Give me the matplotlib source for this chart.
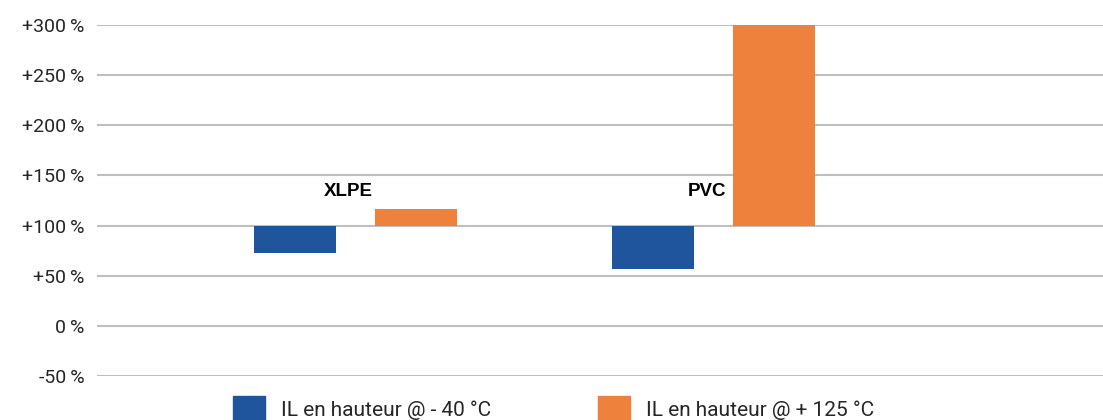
import matplotlib
matplotlib.use("Agg")
import matplotlib.pyplot as plt
from matplotlib.patches import Patch
import numpy as np

# data (% of reference, bars drawn from the 100 % baseline)
categories = ["XLPE", "PVC"]
il_minus40 = [73, 57]
il_plus125 = [117, 300]
baseline = 100
series_names = ["IL en hauteur @ - 40 °C", "IL en hauteur @ + 125 °C"]
yticks = [-50, 0, 50, 100, 150, 200, 250, 300]

blue = "#1f559c"
orange = "#ee823c"

plt.rcParams['font.family'] = ['Roboto', 'DejaVu Sans']

fig = plt.figure(figsize=(11.03, 4.2), dpi=100)
ax = fig.add_axes([97/1103, 1 - 376/420, 1 - 97/1103, (376 - 25)/420])

x = np.arange(len(categories))
w = 0.229
off = 0.169
ax.bar(x - off, np.array(il_minus40) - baseline, w, bottom=baseline, color=blue, zorder=3)
ax.bar(x + off, np.array(il_plus125) - baseline, w, bottom=baseline, color=orange, zorder=3)

for xi, name in zip(x, categories):
    ax.text(xi - 0.02, 134, name, ha="center", va="center", fontsize=13.5,
            fontweight="bold", family=["Liberation Sans", "DejaVu Sans"], color="#000000", zorder=4)

ax.set_xlim(-0.723, 2.087)
ax.set_ylim(-50, 300)
ax.set_yticks(yticks)

def fmt(v):
    if v > 0:
        return "+%d\u2009%%" % v
    return "%d\u2009%%" % v

ax.set_yticklabels([fmt(v) for v in yticks], fontsize=14, color="#262626")
ax.tick_params(axis="y", length=0, pad=9)
ax.set_xticks([])
ax.grid(axis="y", color="#bfbfbf", linewidth=1.5, zorder=0)
for s in ax.spines.values():
    s.set_visible(False)

handles = [Patch(color=blue), Patch(color=orange)]
fig.legend(handles, series_names, loc="upper left", bbox_to_anchor=(233/1103, 1 - 396/420),
           ncol=2, frameon=False, fontsize=15, handlelength=1.54, handleheight=1.54,
           handletextpad=0.77, columnspacing=5.1, borderpad=0, borderaxespad=0,
           labelcolor="#262626")

fig.savefig("out.png", dpi=100)
